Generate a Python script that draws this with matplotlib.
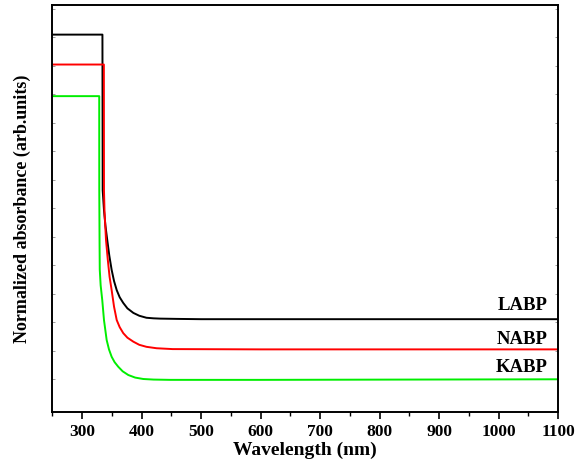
import matplotlib.pyplot as plt
from matplotlib.ticker import MultipleLocator

plt.rcParams['font.family'] = ['Liberation Serif', 'DejaVu Serif']
plt.rcParams['font.weight'] = 'bold'

# Spectra (wavelength nm, normalized absorbance)
wl_labp = [250, 334.0, 334.4, 336.6, 339, 342.1, 345.5, 349.5, 353.5, 358, 363, 369, 376,
           386, 396, 408, 420, 431, 460, 500, 700, 1100]
ab_labp = [1.310, 1.310, 0.764, 0.694, 0.640, 0.589, 0.535, 0.484, 0.445, 0.413, 0.388, 0.368, 0.349,
           0.333, 0.323, 0.316, 0.314, 0.313, 0.312, 0.311, 0.311, 0.311]

wl_nabp = [250, 336.4, 336.6, 337.5, 340, 343, 346, 349.5, 353.5, 358, 363, 369, 376,
           386, 396, 408, 425, 452, 600, 1100]
ab_nabp = [1.205, 1.205, 0.764, 0.690, 0.589, 0.520, 0.460, 0.413, 0.355, 0.308, 0.283, 0.262, 0.246,
           0.232, 0.221, 0.214, 0.209, 0.206, 0.205, 0.205]

wl_kabp = [250, 328.6, 328.7, 329.2, 329.5, 331, 333.7, 336.6, 341.1, 345, 349.5, 354.5, 360.6,
           368, 377.5, 389, 402.7, 420, 448, 600, 1100]
ab_kabp = [1.094, 1.094, 0.764, 0.567, 0.485, 0.430, 0.378, 0.308, 0.238, 0.205, 0.179, 0.160, 0.144,
           0.128, 0.115, 0.106, 0.101, 0.099, 0.098, 0.098, 0.100]

labels = ["LABP", "NABP", "KABP"]
label_y = [0.36, 0.238, 0.140]

fig = plt.figure(figsize=(5.76, 4.59), dpi=100)
ax = fig.add_axes([0.0911, 0.1031, 0.8777, 0.8854])

ax.plot(wl_labp, ab_labp, color="black", lw=1.4)
ax.plot(wl_nabp, ab_nabp, color="#ff0000", lw=1.4)
ax.plot(wl_kabp, ab_kabp, color="#00ee00", lw=1.4)

for lab, yy in zip(labels, label_y):
    ax.text(1082, yy, lab, ha="right", va="center", fontsize=13.5, fontweight="bold")

ax.set_xlim(250, 1100)
ax.set_ylim(-0.0137, 1.413)
ax.xaxis.set_minor_locator(MultipleLocator(50))
ax.set_xticks(range(300, 1101, 100))
ax.set_yticks([0.1 * i for i in range(1, 15)])
ax.set_yticklabels([])

ax.tick_params(axis="x", which="major", direction="out", length=5, width=1.2, labelsize=12.5, pad=4)
ax.tick_params(axis="x", which="minor", direction="out", length=3, width=1.0)
ax.tick_params(axis="y", which="major", direction="in", length=2.5, width=0.6, color="0.55", right=True)

for sp in ax.spines.values():
    sp.set_linewidth(1.4)

ax.set_xlabel("Wavelength (nm)", fontsize=14, fontweight="bold", labelpad=1)
ax.set_ylabel("Normalized absorbance (arb.units)", fontsize=13, fontweight="bold", labelpad=12)

plt.savefig("out.png", dpi=100)
